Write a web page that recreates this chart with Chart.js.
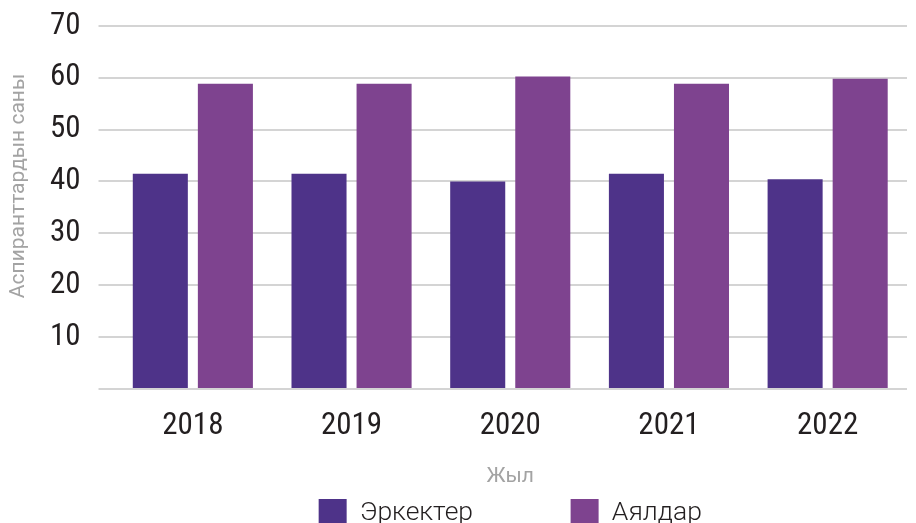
<!DOCTYPE html>
<html>
<head>
<meta charset="utf-8">
<script src="https://cdn.jsdelivr.net/npm/chart.js@4"></script>
<style>
body { margin: 0; overflow: hidden; background: #fff; }
#wrap { width: 916px; height: 523px; overflow: hidden; }
</style>
</head>
<body>
<div id="wrap"><canvas id="barChart" width="916" height="537"></canvas></div>
<script>
const years = ['2018', '2019', '2020', '2021', '2022'];
const men = [41.5, 41.5, 40.0, 41.5, 40.4];
const women = [58.8, 58.8, 60.2, 58.8, 59.8];
const yTicks = [0, 10, 20, 30, 40, 50, 60, 70];

const narrow = "'Roboto Condensed', 'Liberation Sans Narrow', 'DejaVu Sans Condensed', Roboto, sans-serif";
const gridColor = '#d4d4d4';

const ctx = document.getElementById('barChart').getContext('2d');
const chart = new Chart(ctx, {
  type: 'bar',
  data: {
    labels: years,
    datasets: [
      { label: 'Эркектер', data: men, backgroundColor: '#4e3389' },
      { label: 'Аялдар', data: women, backgroundColor: '#7e438f' }
    ]
  },
  options: {
    responsive: false,
    animation: false,
    devicePixelRatio: 1,
    categoryPercentage: 0.82,
    barPercentage: 0.846,
    layout: { padding: { top: 25, right: 9, bottom: 0, left: 0 } },
    plugins: {
      tooltip: { enabled: false },
      legend: {
        position: 'bottom',
        fullSize: false,
        labels: {
          boxWidth: 28,
          boxHeight: 28,
          padding: 10,
          color: '#231f20',
          font: { family: 'Roboto, sans-serif', weight: '300', size: 26.5 },
          generateLabels: function(c) {
            const items = Chart.defaults.plugins.legend.labels.generateLabels(c);
            items[0].text = items[0].text + '\u2003\u2003\u2003 ';
            return items;
          }
        }
      }
    },
    scales: {
      x: {
        grid: { display: false, drawTicks: false },
        border: { display: false },
        ticks: { color: '#231f20', padding: 19, font: { family: narrow, size: 31 } },
        title: {
          display: true,
          text: 'Жыл',
          color: '#a3a3a3',
          padding: { top: 0, bottom: 0 },
          font: { family: "Roboto, sans-serif", size: 21 }
        },
        afterFit: function(scale) { scale.height = 100; }
      },
      y: {
        min: 0,
        max: 70,
        afterBuildTicks: function(scale) {
          scale.ticks = yTicks.map(v => ({ value: v }));
        },
        grid: { color: gridColor, lineWidth: 2, tickLength: 15 },
        border: { display: false },
        ticks: {
          color: '#231f20',
          padding: 18,
          font: { family: narrow, size: 31, lineHeight: 0.5 },
          callback: function(v) { return v === 0 ? '' : v; }
        },
        title: {
          display: true,
          text: '\u2003\u2003Аспиранттардын саны',
          color: '#a3a3a3',
          padding: { top: 6, bottom: 0 },
          font: { family: "Roboto, sans-serif", size: 21 }
        },
        afterFit: function(scale) { scale.width = 113.5; }
      }
    }
  }
});
</script>
</body>
</html>
